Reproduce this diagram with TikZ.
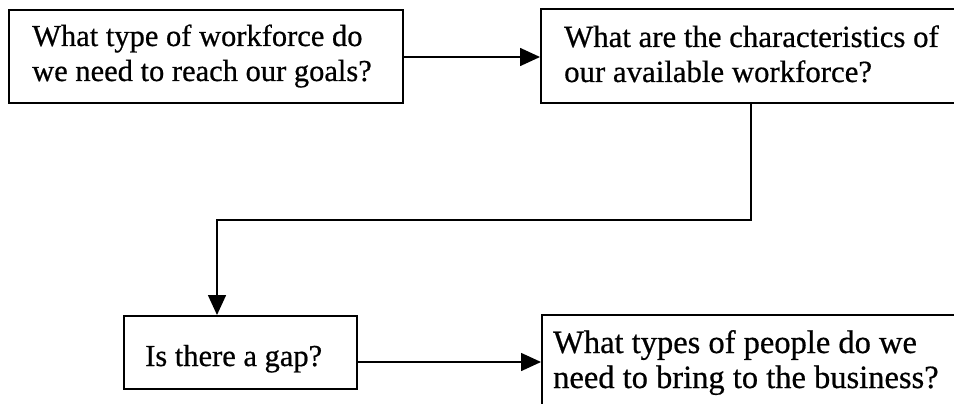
\documentclass[tikz,border=0pt]{standalone}
\usepackage{fontspec}
\setmainfont{Liberation Serif}[FakeBold=0.6]
\usetikzlibrary{arrows.meta}
\begin{document}
\begin{tikzpicture}[x=1pt,y=-1pt,
  box/.style={draw=black, line width=1.6pt, rectangle, inner sep=0pt, anchor=north west},
  txt/.style={anchor=base west, inner sep=0pt, font=\fontsize{30.5}{35}\selectfont},
  flow/.style={line width=1.6pt, -{Triangle[length=20pt,width=18pt]}}]
\useasboundingbox (0,0) rectangle (954,404);
\clip (0,0) rectangle (954,404);

% question boxes (the two on the right run past the page edge)
\node[box, minimum width=394pt, minimum height=93pt] (q1) at (8,9) {};
\node[box, minimum width=420pt, minimum height=94pt] (q2) at (540,8) {};
\node[box, minimum width=233pt, minimum height=73pt] (q3) at (123,315) {};
\node[box, minimum width=420pt, minimum height=110pt] (q4) at (541,314) {};

% question texts
\node[txt] (t1a) at (32,46) {What type of workforce do};
\node[txt] (t1b) at (32,81) {we need to reach our goals?};
\node[txt, font=\fontsize{30.8}{35}\selectfont] (t2a) at (564,47) {What are the characteristics of};
\node[txt, font=\fontsize{30.8}{35}\selectfont] (t2b) at (564,82) {our available workforce?};
\node[txt] (t3)  at (145,366) {Is there a gap?};
\node[txt, font=\fontsize{32.5}{35}\selectfont] (t4a) at (553,353) {What types of people do we};
\node[txt, font=\fontsize{32.5}{35}\selectfont] (t4b) at (553,388) {need to bring to the business?};

% connectors
\coordinate (r1) at (0,57);
\coordinate (turn) at (217,220);
\coordinate (r3) at (0,362);
\draw[flow] (q1.east |- r1) -- (q2.west |- r1);
\draw[flow] (q2.south) |- (turn) -- (turn |- q3.north);
\draw[flow] (q3.east |- r3) -- (q4.west |- r3);
\end{tikzpicture}
\end{document}
